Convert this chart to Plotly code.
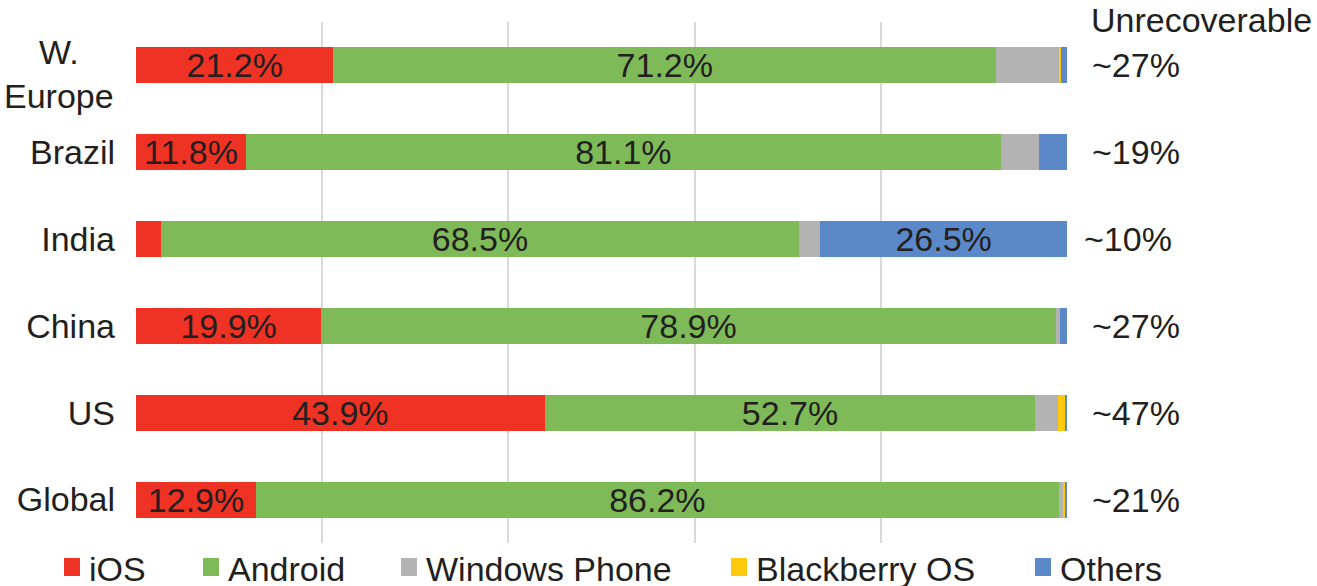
import plotly.graph_objects as go

regions = ["W. Europe", "Brazil", "India", "China", "US", "Global"]
region_labels = ["", "Brazil", "India", "China", "US", "Global"]
region_label_top = "W.<br>Europe"
ios = [21.2, 11.8, 2.7, 19.9, 43.9, 12.9]
android = [71.2, 81.1, 68.5, 78.9, 52.7, 86.2]
windows = [6.8, 4.1, 2.3, 0.5, 2.4, 0.5]
blackberry = [0.2, 0.0, 0.0, 0.0, 0.8, 0.2]
others = [0.6, 3.0, 26.5, 0.7, 0.2, 0.2]
ios_text = ["21.2%", "11.8%", "", "19.9%", "43.9%", "12.9%"]
android_text = ["71.2%", "81.1%", "68.5%", "78.9%", "52.7%", "86.2%"]
others_text = ["", "", "26.5%", "", "", ""]
unrecoverable = ["~27%", "~19%", "~10%", "~27%", "~47%", "~21%"]
series_names = ["iOS", "Android", "Windows Phone", "Blackberry OS", "Others"]

FONT = "Liberation Sans, Arial, Helvetica, sans-serif"
TXT = "#231f20"
W, H = 1317, 586
ML, MR, MT, MB = 136, 250, 22, 43
PW = W - ML - MR
PH = H - MT - MB


def px_x(p):
    return (p - ML) / PW


def px_y(p):
    return 1 - (p - MT) / PH


colors = ["#ee3224", "#7fba59", "#b3b3b3", "#ffc90e", "#5a88c8"]
values = [ios, android, windows, blackberry, others]
texts = [ios_text, android_text, None, None, others_text]

fig = go.Figure()
for name, vals, color, txt in zip(series_names, values, colors, texts):
    fig.add_trace(go.Bar(
        y=regions, x=vals, name=name, orientation="h",
        marker=dict(color=color, line=dict(width=0)),
        text=txt, textposition="inside" if txt else "none",
        insidetextanchor="middle", textangle=0, constraintext="none",
        textfont=dict(family=FONT, size=34, color=TXT),
        hoverinfo="skip", showlegend=False,
    ))

# two-line category label for the first row (centred lines)
fig.add_annotation(x=px_x(116), xref="paper", y=px_y(74), yref="paper",
                   text=region_label_top, showarrow=False, xanchor="right",
                   yanchor="middle", align="center",
                   font=dict(family=FONT, size=34, color=TXT))

# right-hand "Unrecoverable" labels
for r, u in zip(regions, unrecoverable):
    xp = 1082 if u == "~10%" else 1090
    fig.add_annotation(x=px_x(xp), xref="paper", y=r, yref="y", text=u,
                       showarrow=False, xanchor="left", yanchor="middle",
                       font=dict(family=FONT, size=34, color=TXT))
fig.add_annotation(x=px_x(1089), xref="paper", y=px_y(20), yref="paper",
                   text="Unrecoverable", showarrow=False, xanchor="left",
                   yanchor="middle", font=dict(family=FONT, size=34, color=TXT))

# legend (drawn as key squares + labels)
sq_left = [64, 203, 401, 731, 1035]
for name, color, sx in zip(series_names, colors, sq_left):
    fig.add_shape(type="rect", xref="paper", yref="paper",
                  x0=px_x(sx), x1=px_x(sx + 16), y0=px_y(576), y1=px_y(558),
                  fillcolor=color, line=dict(width=0), layer="above")
    fig.add_annotation(x=px_x(sx + 23), xref="paper", y=px_y(569), yref="paper",
                       text=name, showarrow=False, xanchor="left", yanchor="middle",
                       font=dict(family=FONT, size=34, color=TXT))

fig.update_layout(
    width=W, height=H,
    margin=dict(l=ML, r=MR, t=MT, b=MB, autoexpand=False),
    barmode="stack", bargap=0.586,
    plot_bgcolor="white", paper_bgcolor="white",
    font=dict(family=FONT, size=34, color=TXT),
    showlegend=False,
    xaxis=dict(range=[0, 100], dtick=20, showgrid=True, gridcolor="#d9d9d9",
               gridwidth=2, showticklabels=False, zeroline=False,
               showline=False, ticks="", automargin=False),
    yaxis=dict(autorange="reversed", tickvals=regions, ticktext=region_labels,
               tickfont=dict(family=FONT, size=34, color=TXT),
               ticks="", ticklabelstandoff=20, showgrid=False,
               zeroline=False, showline=False, automargin=False),
)

fig.write_html("out.html",
               config={"displayModeBar": False},
               post_script="document.body.style.margin='0';document.body.style.overflow='hidden';")
